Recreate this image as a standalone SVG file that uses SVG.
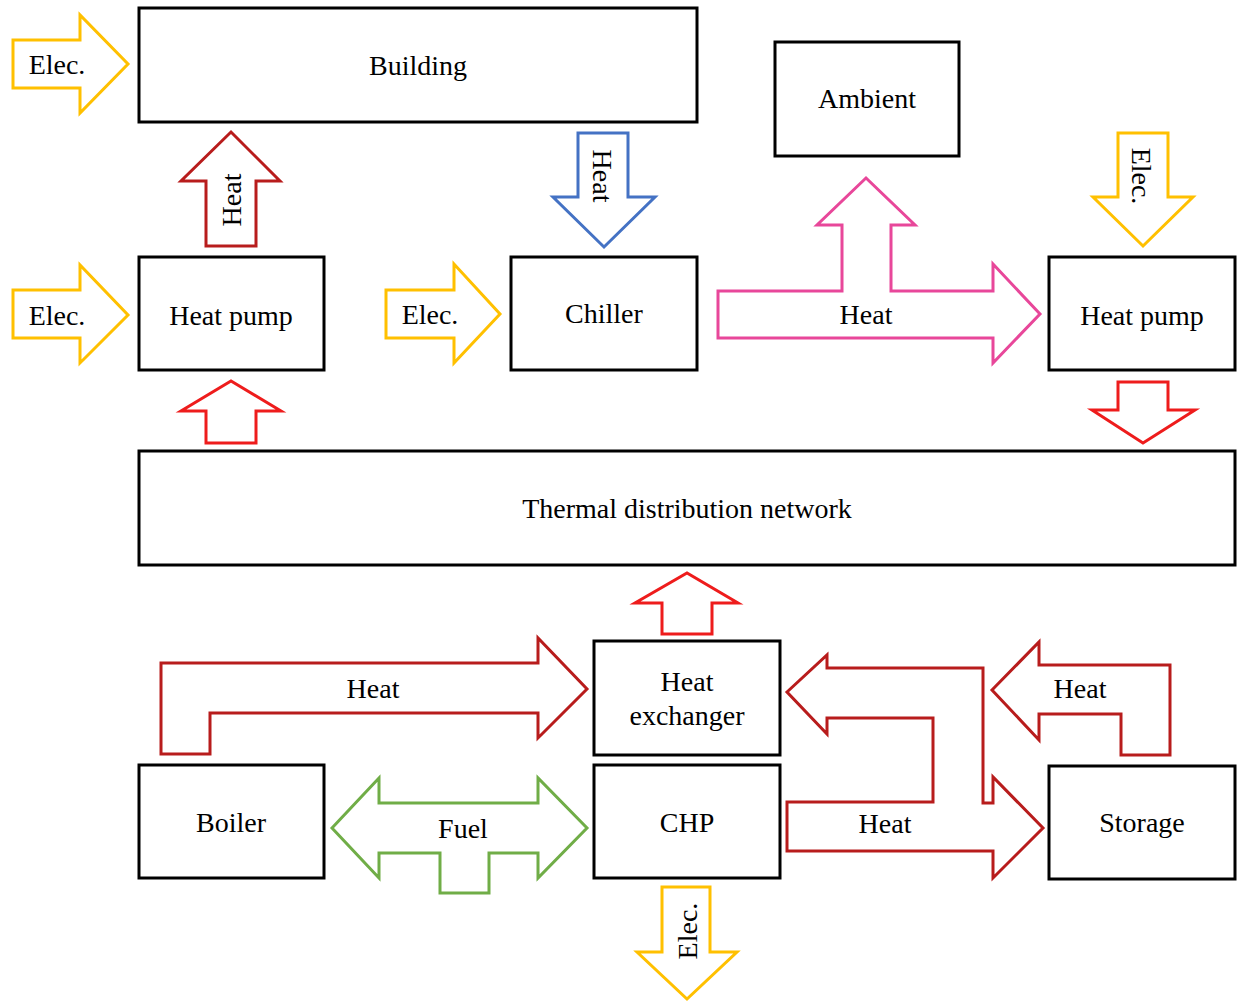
<svg xmlns="http://www.w3.org/2000/svg" width="1239" height="1002" viewBox="0 0 1239 1002">
  <style>
    .box { fill: #ffffff; stroke: #000000; stroke-width: 3; }
    .arr { fill: #ffffff; stroke-width: 3; stroke-linejoin: miter; }
    .elec { stroke: #ffc000; }
    .hot { stroke: #b81c1c; }
    .red { stroke: #ee1c1c; }
    .cold { stroke: #4472c4; }
    .amb { stroke: #e8479a; }
    .fuel { stroke: #70ad47; }
    text { font-family: "Liberation Serif", "Times New Roman", serif; font-size: 28px; fill: #000000; text-anchor: middle; }
  </style>
  <rect width="1239" height="1002" fill="#ffffff"/>

  <!-- energy flow arrows -->
  <g id="connectors">
    <!-- electricity into building -->
    <path class="arr elec" d="M13,40 H80 V15 L128,64 L80,113 V88 H13 Z"/>
    <text x="57" y="74">Elec.</text>
    <!-- electricity into left heat pump -->
    <path class="arr elec" d="M13,290 H80 V265 L128,315 L80,363 V338 H13 Z"/>
    <text x="57" y="325">Elec.</text>
    <!-- heat from left heat pump to building -->
    <path class="arr hot" d="M206,246 V181 H181 L231,132 L280,181 H256 V246 Z"/>
    <text transform="translate(241,200) rotate(-90)">Heat</text>
    <!-- heat from building to chiller -->
    <path class="arr cold" d="M578,133 H628 V197 H655 L604,247 L553,197 H578 Z"/>
    <text transform="translate(593,176) rotate(90)">Heat</text>
    <!-- electricity into chiller -->
    <path class="arr elec" d="M386,290 H454 V264 L500,314 L454,363 V338 H386 Z"/>
    <text x="430" y="324">Elec.</text>
    <!-- chiller heat split to ambient and right heat pump -->
    <path class="arr amb" d="M718,291 H842 V225 H817 L866,178 L915,225 H891 V291 H993 V264 L1040,314 L993,363 V338 H718 Z"/>
    <text x="866" y="324">Heat</text>
    <!-- electricity into right heat pump -->
    <path class="arr elec" d="M1118,133 H1168 V197 H1193 L1143,246 L1093,197 H1118 Z"/>
    <text transform="translate(1132,176) rotate(90)">Elec.</text>
    <!-- network to left heat pump -->
    <path class="arr red" d="M206,443 V411 H181 L231,381 L281,411 H256 V443 Z"/>
    <!-- right heat pump to network -->
    <path class="arr red" d="M1118,382 H1168 V410 H1195 L1143,443 L1092,410 H1118 Z"/>
    <!-- heat exchanger to network -->
    <path class="arr red" d="M662,634 V603 H635 L687,573 L738,603 H712 V634 Z"/>
    <!-- boiler heat to heat exchanger -->
    <path class="arr hot" d="M161,754 V663 H538 V638 L587,689 L538,738 V713 H210 V754 Z"/>
    <text x="373" y="698">Heat</text>
    <!-- fuel between boiler and CHP -->
    <path class="arr fuel" d="M332,828 L379,778 V803 H538 V778 L587,828 L538,878 V853 H489 V893 H440 V853 H379 V878 Z"/>
    <text x="463" y="838">Fuel</text>
    <!-- CHP heat to heat exchanger and storage -->
    <path class="arr hot" d="M787,692 L827,655 V668 H983 V803 H993 V777 L1043,828 L993,878 V851 H787 V802 H933 V718 H827 V734 Z"/>
    <text x="885" y="833">Heat</text>
    <!-- storage heat to heat exchanger -->
    <path class="arr hot" d="M992,690 L1039,642 V665 H1170 V755 H1121 V714 H1039 V740 Z"/>
    <text x="1080" y="698">Heat</text>
    <!-- CHP electricity output -->
    <path class="arr elec" d="M662,887 H710 V952 H737 L687,999 L637,952 H662 Z"/>
    <text transform="translate(697,931) rotate(-90)">Elec.</text>
  </g>

  <g id="building">
    <rect class="box" x="139" y="8" width="558" height="114"/>
    <text x="418" y="75">Building</text>
  </g>
  <g id="ambient">
    <rect class="box" x="775" y="42" width="184" height="114"/>
    <text x="867" y="108">Ambient</text>
  </g>
  <g id="heat-pump-left">
    <rect class="box" x="139" y="257" width="185" height="113"/>
    <text x="231" y="325">Heat pump</text>
  </g>
  <g id="chiller">
    <rect class="box" x="511" y="257" width="186" height="113"/>
    <text x="604" y="323">Chiller</text>
  </g>
  <g id="heat-pump-right">
    <rect class="box" x="1049" y="257" width="186" height="113"/>
    <text x="1142" y="325">Heat pump</text>
  </g>
  <g id="thermal-network">
    <rect class="box" x="139" y="451" width="1096" height="114"/>
    <text x="687" y="518">Thermal distribution network</text>
  </g>
  <g id="heat-exchanger">
    <rect class="box" x="594" y="641" width="186" height="114"/>
    <text x="687" y="691">Heat</text>
    <text x="687" y="725">exchanger</text>
  </g>
  <g id="boiler">
    <rect class="box" x="139" y="765" width="185" height="113"/>
    <text x="231" y="832">Boiler</text>
  </g>
  <g id="chp">
    <rect class="box" x="594" y="765" width="186" height="113"/>
    <text x="687" y="832">CHP</text>
  </g>
  <g id="storage">
    <rect class="box" x="1049" y="766" width="186" height="113"/>
    <text x="1142" y="832">Storage</text>
  </g>
</svg>
